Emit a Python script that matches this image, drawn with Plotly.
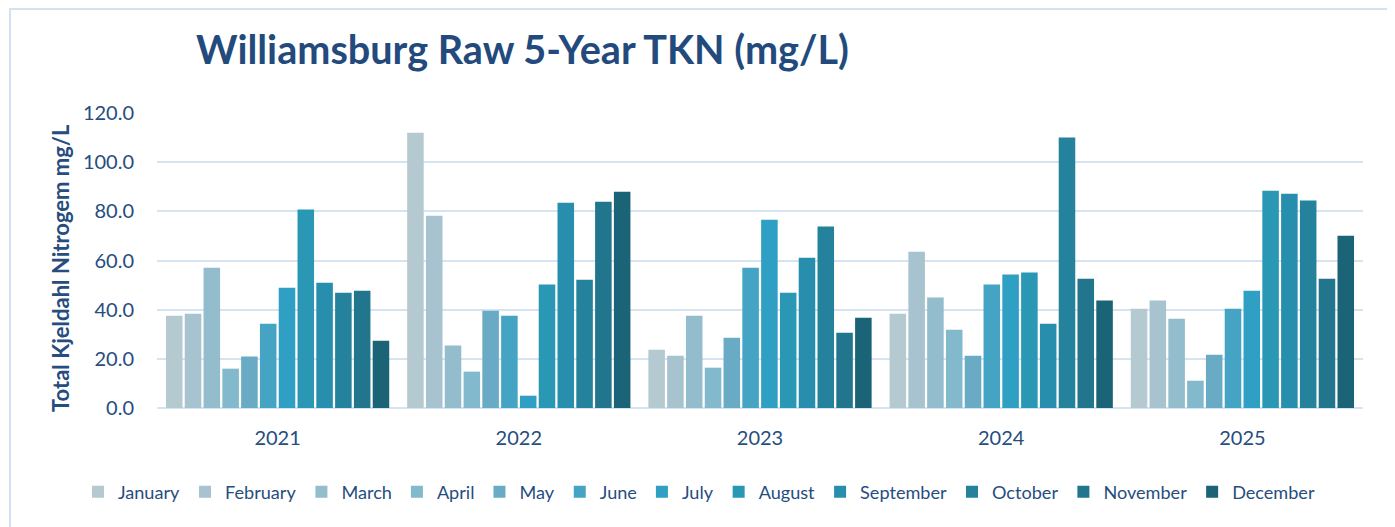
import plotly.graph_objects as go

years = ["2021", "2022", "2023", "2024", "2025"]
months = ["January", "February", "March", "April", "May", "June", "July",
          "August", "September", "October", "November", "December"]

jan = [37.5, 112.0, 23.7, 38.3, 40.4]
feb = [38.3, 78.2, 21.3, 63.6, 43.7]
mar = [57.1, 25.4, 37.5, 44.9, 36.3]
apr = [16.0, 14.8, 16.4, 31.8, 11.1]
may = [20.9, 39.6, 28.6, 21.3, 21.7]
jun = [34.3, 37.5, 57.1, 50.2, 40.4]
jul = [48.9, 5.0, 76.6, 54.3, 47.7]
aug = [80.7, 50.2, 46.9, 55.1, 88.4]
sep = [51.0, 83.5, 61.1, 34.3, 87.2]
oct_ = [46.9, 52.2, 73.8, 110.0, 84.4]
nov = [47.7, 83.9, 30.6, 52.6, 52.6]
dec = [27.4, 88.0, 36.7, 43.7, 70.1]

series = [jan, feb, mar, apr, may, jun, jul, aug, sep, oct_, nov, dec]
colors = ["#b5c9d1", "#a6c3cf", "#93bccc", "#82b9cd", "#69abc4", "#45a4c4",
          "#2f9fc3", "#2a98b5", "#278ead", "#25829c", "#21768d", "#1b6376"]

text_color = "#264d7e"
font_family = "Lato, 'Open Sans', sans-serif"

# page body adds an 8px offset; figure is sized to fit the window
OFF = 8
W, H = 1395 - OFF, 527 - OFF
L, T = 157 - OFF, 113 - OFF
PW, PH = 1363 - 157, 408 - 113
R, B = W - L - PW, H - T - PH

fig = go.Figure()
for name, vals, col in zip(months, series, colors):
    fig.add_trace(go.Bar(x=years, y=vals, name=name, marker=dict(color=col, line=dict(width=0))))

fig.update_layout(
    width=W, height=H,
    paper_bgcolor="white", plot_bgcolor="white",
    barmode="group", bargap=0.065, bargroupgap=0.12,
    margin=dict(l=L, r=R, t=T, b=B, autoexpand=False),
    font=dict(family=font_family, color=text_color, size=19),
    title=dict(text="<b>Williamsburg Raw 5-Year TKN (mg/L)</b>",
               x=(196 - OFF) / W, xanchor="left", y=1 - (50 - OFF) / H, yanchor="middle",
               font=dict(size=39.6, color="#234a7c", family=font_family)),
    legend=dict(orientation="h", x=(78 - 157) / PW, xanchor="left",
                y=-(492 - 408) / PH, yanchor="middle",
                font=dict(size=18.1, color=text_color), itemwidth=30,
                traceorder="normal", tracegroupgap=0),
    xaxis=dict(showgrid=False, showline=False, ticks="", tickfont=dict(size=20),
               ticklabelstandoff=16, automargin=False),
    yaxis=dict(range=[0, 120], dtick=20, tickformat=".1f", showgrid=True,
               gridcolor="#d6e3f1", gridwidth=2, zeroline=True, zerolinecolor="#d6e3f1",
               zerolinewidth=2, tickfont=dict(size=20), ticks="", ticklabelstandoff=22,
               automargin=False),
    annotations=[dict(text="<b>Total Kjeldahl Nitrogem mg/L</b>", textangle=-90,
                      xref="paper", yref="paper", x=(60 - 157) / PW, xanchor="center",
                      y=(408 - 268) / PH, yanchor="middle", showarrow=False,
                      font=dict(size=22, color=text_color, family=font_family))],
    shapes=[dict(type="rect", xref="paper", yref="paper",
                 x0=-(157 - 10) / PW, x1=(1392 - 157) / PW,
                 y0=-(527 - 408 + 5) / PH, y1=1 + (113 - 9) / PH,
                 line=dict(color="#d4e1f1", width=2), fillcolor="rgba(0,0,0,0)", layer="below")],
)

fig.write_html("out.html")
